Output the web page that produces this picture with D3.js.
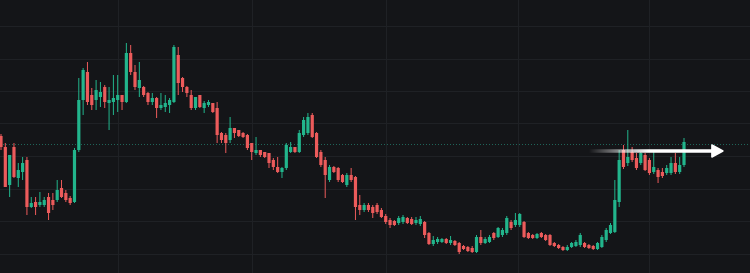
<!DOCTYPE html>
<head>
  <meta charset="utf-8">
  <script src="https://d3js.org/d3.v7.min.js"></script>
  <style>
    body { margin: 0; background: #141518; }
  </style>
</head>
<body>

<div id="chart"></div>

<script>
  // candle values (arbitrary price unit, no axis shown)
  var open = [164,153,115,153,122,128,140,93,98,95,95,103,100,100,112,107,102,98,150,200,228,205,
    200,203,213,197,198,200,205,198,247,228,212,213,207,198,202,192,193,195,198,245,222,213,
    205,192,205,192,195,197,192,167,165,160,172,170,167,165,157,147,150,148,147,140,133,128,132,148,153,148,165,167,185,167,148,140,120,133,132,125,115,125,123,95,90,
    95,93,95,90,84,80,79,77,78,82,81,77,76,78,67,56,58,58,61,57,59,57,54,53,52,48,63,57,58,67,63,65,67,78,75,75,78,67,65,62,67,65,
    65,57,55,53,50,53,54,55,57,55,54,51,53,60,67,68,98,150,137,148,142,137,145,140,128,130,128,127,127,137,128,135];
  var close = [153,113,145,123,130,137,93,97,93,98,100,87,95,110,103,100,97,150,200,230,198,195,
    210,208,198,200,202,205,198,247,228,213,220,205,198,202,192,195,197,200,253,217,213,207,
    192,203,193,197,198,188,165,160,157,172,167,164,163,152,148,150,145,143,137,133,128,132,155,153,148,167,180,183,163,143,135,125,133,128,120,118,125,120,93,90,95,
    90,87,88,83,78,75,75,82,83,77,76,80,81,65,56,60,61,61,57,60,55,48,51,49,48,63,57,61,63,62,72,70,82,72,80,86,63,62,62,66,63,60,
    55,54,52,50,53,57,58,65,53,52,51,57,63,70,75,100,140,133,143,140,132,147,130,127,133,123,124,132,137,128,135,158];
  var high = [166,157,145,157,137,143,143,103,103,108,103,107,107,120,120,110,104,152,222,232,238,212,
    220,218,215,213,225,225,205,257,255,235,238,214,208,207,203,207,205,202,255,253,223,214,
    210,203,205,199,200,197,198,168,167,183,172,170,168,166,157,163,150,148,147,142,143,133,157,158,153,170,183,187,187,168,150,143,135,134,133,126,127,132,124,105,97,
    97,95,97,92,86,82,80,84,85,83,83,83,84,79,68,64,63,62,62,64,60,58,55,54,54,65,70,63,65,68,73,72,84,80,87,87,79,68,66,67,68,66,
    66,58,56,54,55,58,60,67,58,56,55,58,65,72,77,120,150,155,170,153,147,148,147,142,148,132,132,135,143,147,143,162];
  var low = [150,113,103,122,113,120,85,92,85,93,93,80,90,98,102,98,95,97,148,185,195,190,
    190,193,192,170,185,188,190,197,225,210,203,203,195,195,182,190,188,187,197,205,208,203,
    190,190,192,187,193,187,157,157,147,157,162,163,162,150,140,145,143,142,132,130,127,122,130,147,147,147,163,165,162,142,133,102,118,127,118,117,113,118,80,85,88,
    88,82,86,82,76,72,74,75,76,76,75,75,74,62,55,54,56,57,56,55,54,46,50,48,47,47,55,56,57,60,62,63,65,70,73,73,62,61,61,61,62,59,
    54,53,51,49,49,52,53,53,52,51,50,50,52,58,66,67,93,131,134,138,130,135,129,125,126,117,122,125,125,126,126,133];

  // price levels of the horizontal grid, time positions (candle index) of the vertical grid
  var gridPrices = d3.range(46.5, 300, 32.5);
  var gridIndex = [27, 58, 89, 119.5, 150];
  var levelPrice = 156;
  var arrow = {from: 136, to: 167, price: 149};

  var width = 750, height = 273;
  var up = "#22b58c", down = "#ec5b5b";

  var candles = open.map(function(o, i) {
    return {i: i, o: o, c: close[i], h: high[i], l: low[i]};
  });

  var x = d3.scaleLinear().domain([0, candles.length - 1]).range([1, 684]);
  var y = d3.scaleLinear().domain([27, 300]).range([height, 0]);

  var svg = d3.select("#chart")
    .append("svg")
      .attr("width", width)
      .attr("height", height)
      .style("display", "block");

  svg.append("rect")
    .attr("width", width)
    .attr("height", height)
    .attr("fill", "#141518");

  // grid
  svg.append("g")
    .selectAll("line")
    .data(gridPrices)
    .join("line")
      .attr("x1", 0).attr("x2", width)
      .attr("y1", function(d) { return Math.round(y(d)) + 0.5; })
      .attr("y2", function(d) { return Math.round(y(d)) + 0.5; })
      .attr("stroke", "#1f2125");

  svg.append("g")
    .selectAll("line")
    .data(gridIndex)
    .join("line")
      .attr("y1", 0).attr("y2", height)
      .attr("x1", function(d) { return Math.round(x(d)) + 0.5; })
      .attr("x2", function(d) { return Math.round(x(d)) + 0.5; })
      .attr("stroke", "#1f2125");

  // dotted level line
  svg.append("line")
    .attr("x1", 0).attr("x2", width)
    .attr("y1", Math.round(y(levelPrice)) + 0.5)
    .attr("y2", Math.round(y(levelPrice)) + 0.5)
    .attr("stroke", "#22796a")
    .attr("stroke-opacity", 0.8)
    .attr("stroke-dasharray", "1,2");

  // candles
  var g = svg.append("g");
  g.selectAll(".wick")
    .data(candles)
    .join("line")
      .attr("class", "wick")
      .attr("x1", function(d) { return x(d.i); })
      .attr("x2", function(d) { return x(d.i); })
      .attr("y1", function(d) { return y(d.h); })
      .attr("y2", function(d) { return y(d.l); })
      .attr("stroke", function(d) { return d.c >= d.o ? up : down; })
      .attr("stroke-width", 1);

  g.selectAll(".body")
    .data(candles)
    .join("rect")
      .attr("class", "body")
      .attr("x", function(d) { return x(d.i) - 1.6; })
      .attr("width", 3.2)
      .attr("y", function(d) { return y(Math.max(d.o, d.c)); })
      .attr("height", function(d) { return Math.max(1, Math.abs(y(d.o) - y(d.c))); })
      .attr("fill", function(d) { return d.c >= d.o ? up : down; });

  // arrow
  var defs = svg.append("defs");
  var grad = defs.append("linearGradient")
    .attr("id", "fade")
    .attr("gradientUnits", "userSpaceOnUse")
    .attr("x1", x(arrow.from)).attr("x2", x(arrow.from) + 60)
    .attr("y1", 0).attr("y2", 0);
  grad.append("stop").attr("offset", 0).attr("stop-color", "#fff").attr("stop-opacity", 0);
  grad.append("stop").attr("offset", 1).attr("stop-color", "#fff").attr("stop-opacity", 1);

  var ay = y(arrow.price), ax0 = x(arrow.from), ax1 = x(arrow.to);
  svg.append("line")
    .attr("x1", ax0).attr("x2", ax1 - 8)
    .attr("y1", ay).attr("y2", ay)
    .attr("stroke", "url(#fade)")
    .attr("stroke-width", 3.5);

  svg.append("path")
    .attr("d", d3.line()([[ax1 - 11, ay - 6], [ax1, ay], [ax1 - 11, ay + 6]]) + "Z")
    .attr("fill", "#fff")
    .attr("stroke", "#fff")
    .attr("stroke-linejoin", "round")
    .attr("stroke-width", 1.5);

</script>
</body>
